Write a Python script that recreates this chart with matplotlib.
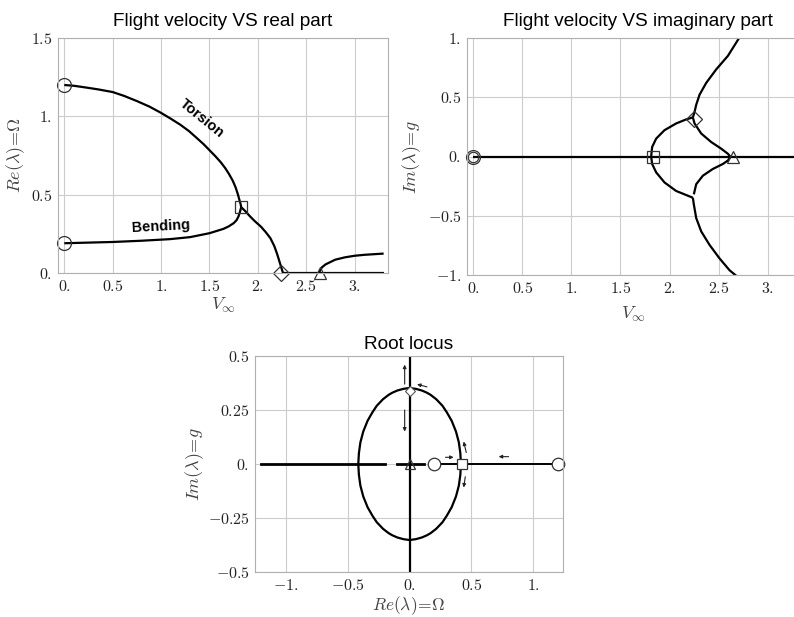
import numpy as np
import matplotlib
matplotlib.use("Agg")
import matplotlib.pyplot as plt

plt.rcParams['mathtext.fontset'] = 'cm'

# ---------------- data: real part vs velocity ----------------
v_torsion = [0, 0.1, 0.234, 0.35, 0.5, 0.62, 0.752, 0.88, 1.0, 1.1, 1.2, 1.29, 1.372, 1.44,
             1.5, 1.56, 1.614, 1.66, 1.70, 1.74, 1.77, 1.795, 1.81, 1.822, 1.828]
re_torsion = [1.2, 1.195, 1.183, 1.172, 1.155, 1.13, 1.097, 1.062, 1.022, 0.985, 0.946, 0.905,
              0.86, 0.822, 0.784, 0.746, 0.709, 0.672, 0.634, 0.59, 0.547, 0.50, 0.465, 0.44, 0.42]
v_bending = [0, 0.5, 0.8, 1.09, 1.30, 1.5, 1.646, 1.70, 1.75, 1.78, 1.80, 1.815, 1.828]
re_bending = [0.19, 0.198, 0.206, 0.216, 0.229, 0.254, 0.282, 0.298, 0.318, 0.337, 0.361, 0.39, 0.42]
v_coupled = [1.828, 1.87, 1.92, 1.97, 2.03, 2.08, 2.13, 2.17, 2.20, 2.23, 2.26]
re_coupled = [0.42, 0.395, 0.361, 0.33, 0.297, 0.262, 0.222, 0.172, 0.12, 0.06, 0.0]
v_zero = [2.26, 3.3]
re_zero = [0.0, 0.0]
v_rise = [2.63, 2.66, 2.70, 2.75, 2.80, 2.90, 3.0, 3.1, 3.2, 3.3]
re_rise = [0.0, 0.035, 0.055, 0.07, 0.085, 0.10, 0.11, 0.116, 0.12, 0.124]

# ---------------- data: imaginary part vs velocity ----------------
v_axis = [0, 3.4]
im_axis = [0, 0]
v_up1 = [1.813, 1.823, 1.864, 1.949, 2.068, 2.17, 2.238]
im_up1 = [0.0, 0.08, 0.151, 0.222, 0.279, 0.313, 0.33]
v_up2 = [2.238, 2.255, 2.272, 2.306, 2.374, 2.476, 2.595, 2.714]
im_up2 = [0.33, 0.375, 0.436, 0.521, 0.621, 0.735, 0.849, 1.006]
v_up3 = [2.238, 2.255, 2.323, 2.425, 2.527, 2.595, 2.619]
im_up3 = [0.33, 0.279, 0.194, 0.122, 0.066, 0.023, 0.0]
v_lo1 = [1.813, 1.823, 1.864, 1.949, 2.068, 2.238]
im_lo1 = [0.0, -0.063, -0.134, -0.219, -0.291, -0.348]
v_lo2 = [2.238, 2.248, 2.272, 2.323, 2.408, 2.51, 2.612, 2.714]
im_lo2 = [-0.348, -0.405, -0.519, -0.632, -0.746, -0.86, -0.96, -1.03]
v_lo3 = [2.248, 2.272, 2.34, 2.442, 2.544, 2.595, 2.619]
im_lo3 = [-0.319, -0.234, -0.162, -0.105, -0.063, -0.034, -0.006]

# ---------------- data: root locus ----------------
ell_y = [0.352, 0.348, 0.34, 0.33, 0.32, 0.30, 0.27, 0.24, 0.20, 0.15, 0.10, 0.05, 0.0]
ell_x = [0.0, 0.05, 0.10, 0.14, 0.17, 0.215, 0.265, 0.30, 0.34, 0.375, 0.398, 0.41, 0.415]
rl_seg1 = [-1.2, -0.197]
rl_seg2 = [-0.10, 0.113]
rl_seg3 = [0.2, 1.2]
rl_arrows = [  # (x_start, y_start, x_end, y_end)
    (-0.04, 0.37, -0.04, 0.46),
    (-0.04, 0.25, -0.04, 0.15),
    (0.14, 0.357, 0.06, 0.369),
    (0.29, 0.031, 0.356, 0.031),
    (0.80, 0.034, 0.72, 0.034),
    (0.458, 0.053, 0.437, 0.104),
    (0.45, -0.059, 0.437, -0.109),
]

W, H = 794, 617
fig = plt.figure(figsize=(W / 100, H / 100), dpi=100)

def ax_at(l, r, t, b):
    return fig.add_axes([l / W, 1 - b / H, (r - l) / W, (b - t) / H])

def style(ax):
    ax.grid(True, color='#cccccc', lw=0.8)
    ax.set_axisbelow(True)
    for s in ax.spines.values():
        s.set_color('#b0b0b0')
        s.set_linewidth(0.8)
    ax.tick_params(length=0, pad=4, labelsize=11.5, colors='#222222')

def mlab(vals):
    out = []
    for v in vals:
        if float(v).is_integer():
            s = '%d.' % v
        else:
            s = '%g' % v
        out.append('$' + s + '$')
    return out

LW = 1.6
kw = dict(color='black', lw=LW, solid_capstyle='butt', solid_joinstyle='round')
mk = dict(color='none', markeredgecolor='#333333', markerfacecolor='none', markeredgewidth=0.9)
TFS = 13.7

# ---------- top-left ----------
ax1 = ax_at(58, 388, 38, 273)
style(ax1)
ax1.plot(v_torsion, re_torsion, **kw)
ax1.plot(v_bending, re_bending, **kw)
ax1.plot(v_coupled, re_coupled, **kw)
ax1.plot(v_zero, re_zero, **kw)
ax1.plot(v_rise, re_rise, **kw)
ax1.plot([0, 0], [1.2, 0.19], 'o', ms=10, clip_on=False, **mk)
ax1.plot([1.83], [0.42], 's', ms=8, **mk)
ax1.plot([2.24], [0.0], 'D', ms=8, clip_on=False, **mk)
ax1.plot([2.64], [0.0], '^', ms=9, clip_on=False, **mk)
ax1.set_xlim(-0.065, 3.345)
ax1.set_ylim(0, 1.5)
xt = [0, 0.5, 1, 1.5, 2, 2.5, 3]
ax1.set_xticks(xt); ax1.set_xticklabels(mlab(xt))
yt = [0, 0.5, 1, 1.5]
ax1.set_yticks(yt); ax1.set_yticklabels(mlab(yt))
ax1.set_xlabel(r'$V_{\infty}$', fontsize=13, color='#444444', labelpad=2)
ax1.set_ylabel(r'$Re(\lambda)\!=\!\Omega$', fontsize=13, color='#444444', labelpad=3)
ax1.set_title('Flight velocity VS real part', fontsize=TFS, family='Liberation Sans', pad=9)
ax1.text(1.42, 0.985, 'Torsion', rotation=-39, fontsize=10.5, fontweight='bold',
         family='Liberation Sans', ha='center', va='center')
ax1.text(1.0, 0.297, 'Bending', rotation=3, fontsize=10.5, fontweight='bold',
         family='Liberation Sans', ha='center', va='center')

# ---------- top-right ----------
ax2 = ax_at(467, 800, 38, 275)
style(ax2)
ax2.plot(v_axis, im_axis, **kw)
for xs, ys in [(v_up1, im_up1), (v_up2, im_up2), (v_up3, im_up3),
               (v_lo1, im_lo1), (v_lo2, im_lo2), (v_lo3, im_lo3)]:
    ax2.plot(xs, ys, **kw)
ax2.plot([0], [0], 'o', ms=10, clip_on=False, **mk)
ax2.plot([0], [0], 'o', ms=7.5, **mk)
ax2.plot([1.83], [0.0], 's', ms=8, **mk)
ax2.plot([2.25], [0.32], 'D', ms=8, **mk)
ax2.plot([2.65], [0.0], '^', ms=9, **mk)
ax2.set_xlim(-0.064, 3.33)
ax2.set_ylim(-1, 1)
ax2.set_xticks(xt); ax2.set_xticklabels(mlab(xt))
yt2 = [-1, -0.5, 0, 0.5, 1]
ax2.set_yticks(yt2); ax2.set_yticklabels(mlab(yt2))
ax2.set_xlabel(r'$V_{\infty}$', fontsize=13, color='#444444', labelpad=7)
ax2.set_ylabel(r'$Im(\lambda)\!=\!g$', fontsize=13, color='#444444', labelpad=3)
ax2.set_title('Flight velocity VS imaginary part', fontsize=TFS, family='Liberation Sans',
              pad=9, x=(638 - 467) / (800 - 467))

# ---------- bottom ----------
ax3 = ax_at(255, 563, 356, 572)
style(ax3)
ex = np.array(ell_x); ey = np.array(ell_y)
ax3.plot(ex, ey, **kw)
ax3.plot(ex, -ey, **kw)
ax3.plot(-ex, ey, **kw)
ax3.plot(-ex, -ey, **kw)
ax3.plot([0, 0], [-0.5, 0.5], **kw)
ax3.plot(rl_seg1, [0, 0], color='black', lw=2.0)
ax3.plot(rl_seg2, [0, 0], color='black', lw=2.0)
ax3.plot(rl_seg3, [0, 0], color='black', lw=1.4)
for (x0, y0, x1, y1) in rl_arrows:
    ax3.annotate('', xy=(x1, y1), xytext=(x0, y0),
                 arrowprops=dict(arrowstyle='-|>', color='#222222', lw=0.8,
                                 mutation_scale=5, shrinkA=0, shrinkB=0))
ax3.plot([0.2, 1.2], [0, 0], 'o', ms=9, markerfacecolor='white', clip_on=False,
         markeredgecolor='#333333', markeredgewidth=0.9, color='none')
ax3.plot([0.42], [0.0], 's', ms=7, markerfacecolor='white',
         markeredgecolor='#333333', markeredgewidth=0.9, color='none')
ax3.plot([0.0], [0.0], '^', ms=7, **mk)
ax3.plot([0.0], [0.34], 'D', ms=5, markerfacecolor='white',
         markeredgecolor='#555555', markeredgewidth=0.8, color='none')
ax3.set_xlim(-1.25, 1.24)
ax3.set_ylim(-0.5, 0.5)
xt3 = [-1, -0.5, 0, 0.5, 1]
ax3.set_xticks(xt3); ax3.set_xticklabels(mlab(xt3))
yt3 = [-0.5, -0.25, 0, 0.25, 0.5]
ax3.set_yticks(yt3); ax3.set_yticklabels(mlab(yt3))
ax3.set_xlabel(r'$Re(\lambda)\!=\!\Omega$', fontsize=12.5, color='#444444', labelpad=1)
ax3.set_ylabel(r'$Im(\lambda)\!=\!g$', fontsize=13, color='#444444', labelpad=1)
ax3.set_title('Root locus', fontsize=TFS, family='Liberation Sans', pad=5)

fig.savefig('out.png', dpi=100)
